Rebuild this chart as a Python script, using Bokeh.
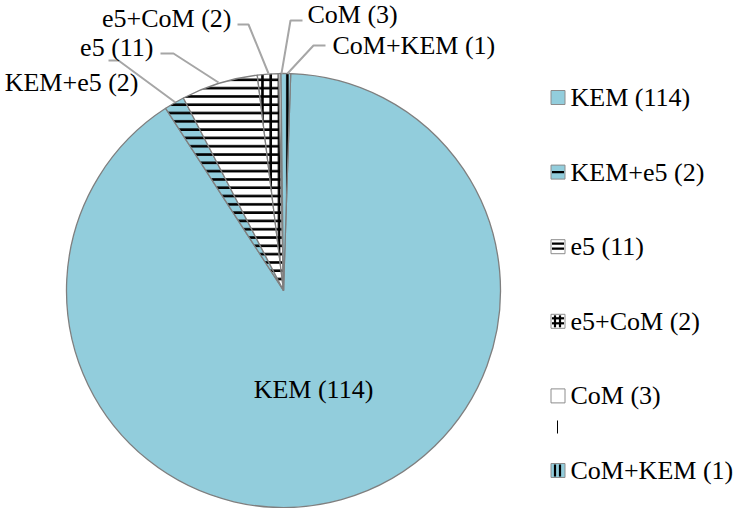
import math
from bokeh.plotting import figure
from bokeh.models import Range1d, ColumnDataSource
from bokeh.core.properties import value
from bokeh.embed import file_html
from bokeh.resources import INLINE

# ---------------- data ----------------
names = ["KEM", "KEM+e5", "e5", "e5+CoM", "CoM", "CoM+KEM"]
counts = [114, 2, 11, 2, 3, 1]
# slice sizes as they are drawn in the picture (KEM = 114 units)
drawn = [114, 1.9, 7.2, 2.0, 0.2, 0.9]
labels = [f"{n} ({c})" for n, c in zip(names, counts)]

# ---------------- style ----------------
BLUE = "#92CDDC"
EDGE = "#7F7F7F"
LEAD = "#A6A6A6"
FONT = value("Liberation Serif")
FSIZE = "26px"
fills = [BLUE, BLUE, "white", "white", "white", BLUE]
hatches = ["blank", "horizontal_line", "horizontal_line", "cross", "blank", "vertical_line"]

CX, CY, R = 283, 290, 217          # pie centre / radius (page pixels)
OFFSET = 1.9                        # first slice starts this many degrees clockwise of 12 o'clock

W, H = 737, 508
p = figure(width=W, height=H, output_backend="svg", toolbar_location=None,
           x_range=Range1d(0, W), y_range=Range1d(-H, 0),
           min_border=0, outline_line_color=None)
p.axis.visible = False
p.grid.visible = False
p.background_fill_color = "white"

# ---------------- pie ----------------
total = sum(drawn)
starts, ends = [], []
cum = OFFSET
for v in drawn:
    span = v / total * 360.0
    cw0, cw1 = cum, cum + span
    starts.append(math.radians(90 - cw1))
    ends.append(math.radians(90 - cw0))
    cum = cw1

src = ColumnDataSource(dict(start=starts, end=ends, fill=fills, hatch=hatches))
p.wedge(x=CX, y=-CY, radius=R, start_angle="start", end_angle="end",
        direction="anticlock", fill_color="fill", hatch_pattern="hatch",
        hatch_color="black", hatch_weight=2.6, hatch_scale=8.3,
        line_color=EDGE, line_width=1.3, source=src)

# ---------------- data labels ----------------
label_pos = [(313, 389, "center"), (138, 82, "right"), (153, 47, "right"),
             (231, 18, "right"), (307, 14, "left"), (332, 45, "left")]
leaders = [None,
           [(108, 60), (118, 60), (175, 102)],
           [(160, 53), (173, 53), (218, 82)],
           [(237, 24), (248, 24), (268, 73)],
           [(302, 20), (290, 20), (281, 73)],
           [(325, 45), (313, 45), (287, 73)]]
xs = [[pt[0] for pt in l] for l in leaders if l]
ys = [[-pt[1] for pt in l] for l in leaders if l]
p.multi_line(xs=xs, ys=ys, line_color=LEAD, line_width=2)

for (lx, ly_, al), txt in zip(label_pos, labels):
    p.text(x=[lx], y=[-ly_], text=[txt], text_font=FONT, text_font_size=FSIZE,
           text_align=al, text_baseline="middle", text_color="black")

# ---------------- legend ----------------
LX, LY0, LDY, SQ = 557.5, 97, 74.6, 14
ly = [LY0 + i * LDY for i in range(len(names))]
p.rect(x=[LX] * len(names), y=[-v for v in ly], width=SQ, height=SQ,
       fill_color=fills, line_color="#8C8C8C", line_width=1)
p.text(x=[570] * len(names), y=[-v for v in ly], text=labels, text_font=FONT,
       text_font_size=FSIZE, text_align="left", text_baseline="middle", text_color="black")

# legend swatch patterns
sx0, sx1 = LX - SQ / 2 + 1, LX + SQ / 2 - 1
sy0 = lambda c: -(c - SQ / 2 + 1)
sy1 = lambda c: -(c + SQ / 2 - 1)
seg_x0, seg_y0, seg_x1, seg_y1 = [], [], [], []
c = ly[1]                      # KEM+e5 : one horizontal line
seg_x0 += [sx0]; seg_x1 += [sx1]; seg_y0 += [-c]; seg_y1 += [-c]
c = ly[2]                      # e5 : two horizontal lines
for d in (-3, 2):
    seg_x0 += [sx0]; seg_x1 += [sx1]; seg_y0 += [-(c + d)]; seg_y1 += [-(c + d)]
c = ly[3]                      # e5+CoM : grid
for d in (-3, 2):
    seg_x0 += [sx0]; seg_x1 += [sx1]; seg_y0 += [-(c + d)]; seg_y1 += [-(c + d)]
for d in (-3, 2):
    seg_x0 += [LX + d]; seg_x1 += [LX + d]; seg_y0 += [sy0(c)]; seg_y1 += [sy1(c)]
c = ly[5]                      # CoM+KEM : two vertical lines
for d in (-3, 2):
    seg_x0 += [LX + d]; seg_x1 += [LX + d]; seg_y0 += [sy0(c)]; seg_y1 += [sy1(c)]
p.segment(x0=seg_x0, y0=seg_y0, x1=seg_x1, y1=seg_y1, line_color="black", line_width=2.2)

# stray tick under the CoM legend entry
p.segment(x0=[557], y0=[-420], x1=[557], y1=[-433], line_color="black", line_width=1)

open("out.html", "w").write(file_html(p, INLINE))
